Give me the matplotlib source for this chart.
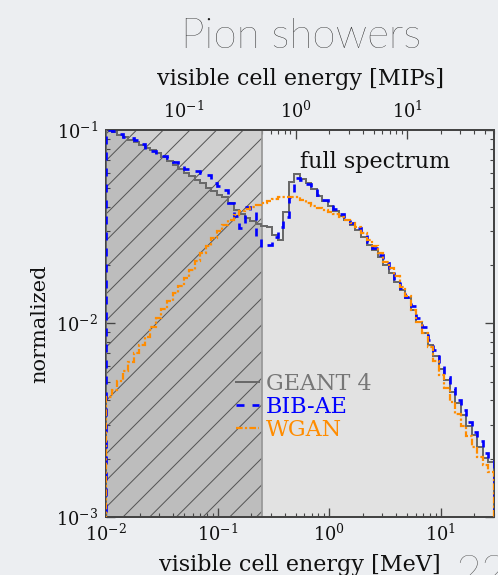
import numpy as np
import matplotlib
matplotlib.use("Agg")
import matplotlib.pyplot as plt
from matplotlib.patches import Rectangle

plt.rcParams['font.family'] = 'DejaVu Serif'
plt.rcParams['mathtext.fontset'] = 'dejavuserif'
plt.rcParams['hatch.linewidth'] = 0.45

# binning: log bins 0.01 .. 30 MeV
e_min, e_max, n_bins = 0.01, 30.0, 70
mip_mev = 0.5
cut_mev = 0.25
y_min, y_max = 1e-3, 1e-1
top_ticks = [0.1, 1, 10]

geant4 = [0.101, 0.0977, 0.0942, 0.0920, 0.0888, 0.0867, 0.0837, 0.0807, 0.0788, 0.0760,
          0.0725, 0.0692, 0.0659, 0.0629, 0.0600, 0.0579, 0.0552, 0.0532, 0.0502, 0.0484,
          0.0461, 0.0449, 0.0419, 0.0386, 0.0368, 0.0351, 0.0339, 0.0327, 0.0319, 0.0315,
          0.0287, 0.0270, 0.0377, 0.0539, 0.0592, 0.0558, 0.0532, 0.0496, 0.0456, 0.0430,
          0.0405, 0.0381, 0.0359, 0.0343, 0.0323, 0.0304, 0.0280, 0.0255, 0.0240, 0.0221,
          0.0201, 0.0182, 0.0164, 0.0149, 0.0135, 0.0117, 0.0102, 0.00893, 0.00774, 0.00679,
          0.00582, 0.00511, 0.00443, 0.00388, 0.00337, 0.00295, 0.00265, 0.00230, 0.00202, 0.00192]

bib_ae = [0.1000, 0.0988, 0.0953, 0.0920, 0.0909, 0.0888, 0.0847, 0.0798, 0.0779, 0.0743,
          0.0734, 0.0717, 0.0684, 0.0659, 0.0629, 0.0621, 0.0614, 0.0600, 0.0585, 0.0532,
          0.0514, 0.0490, 0.0419, 0.0359, 0.0311, 0.0398, 0.0381, 0.0283, 0.0249, 0.0255,
          0.0280, 0.0315, 0.0355, 0.0451, 0.0565, 0.0552, 0.0526, 0.0496, 0.0461, 0.0435,
          0.0415, 0.0391, 0.0368, 0.0347, 0.0331, 0.0311, 0.0287, 0.0264, 0.0246, 0.0226,
          0.0205, 0.0187, 0.0168, 0.0153, 0.0137, 0.0123, 0.0107, 0.00959, 0.00822, 0.00729,
          0.00603, 0.00529, 0.00464, 0.00402, 0.00357, 0.00310, 0.00275, 0.00247, 0.00214, 0.00197]

wgan = [0.00417, 0.00453, 0.00504, 0.00568, 0.00632, 0.00704, 0.00774, 0.00852, 0.00959, 0.0107,
        0.0119, 0.0131, 0.0144, 0.0156, 0.0172, 0.0189, 0.0210, 0.0231, 0.0251, 0.0277,
        0.0301, 0.0323, 0.0343, 0.0364, 0.0381, 0.0391, 0.0398, 0.0410, 0.0419, 0.0430,
        0.0440, 0.0449, 0.0451, 0.0451, 0.0449, 0.0435, 0.0419, 0.0405, 0.0395, 0.0386,
        0.0377, 0.0368, 0.0355, 0.0343, 0.0331, 0.0315, 0.0294, 0.0270, 0.0251, 0.0231,
        0.0208, 0.0194, 0.0176, 0.0154, 0.0139, 0.0117, 0.0102, 0.00893, 0.00756, 0.00640,
        0.00542, 0.00464, 0.00393, 0.00341, 0.00295, 0.00262, 0.00230, 0.00204, 0.00186, 0.00171]

labels = ['GEANT 4', 'BIB-AE', 'WGAN']
colors = ['dimgray', 'blue', 'darkorange']
label_colors = ['#777777', 'blue', 'darkorange']

edges = np.logspace(np.log10(e_min), np.log10(e_max), n_bins + 1)
base = 1e-4
bg = '#eceef1'

fig = plt.figure(figsize=(498/160, 575/160), dpi=160, facecolor=bg)
ax = fig.add_axes([0.2129, 0.1009, 0.7791, 0.673])
ax.set_facecolor(bg)
ax.set_xscale('log')
ax.set_yscale('log')
ax.set_xlim(e_min, e_max)
ax.set_ylim(y_min, y_max)

# shaded areas
ax.axvspan(e_min, cut_mev, color='#d0d0d0', lw=0, zorder=0.1)
ax.stairs(geant4, edges, baseline=base, fill=True, color='#e2e2e2', lw=0, zorder=0.2)
dark = ax.stairs(geant4, edges, baseline=base, fill=True, color='#bdbdbd', lw=0, zorder=0.3)
dark.set_clip_path(Rectangle((e_min, y_min), cut_mev - e_min, y_max - y_min, transform=ax.transData))
ax.axvspan(e_min, cut_mev, facecolor='none', edgecolor='#555555', hatch='//', lw=0, zorder=0.4)
ax.axvline(cut_mev, color='#999999', lw=0.8, zorder=0.45)

ax.stairs(geant4, edges, baseline=base, color=colors[0], lw=0.9, label=labels[0], zorder=3)
ax.stairs(bib_ae, edges, baseline=base, color=colors[1], lw=1.2, ls=(0, (3, 3)), label=labels[1], zorder=4)
ax.stairs(wgan, edges, baseline=base, color=colors[2], lw=1.0, ls=(0, (3, 1, 1, 1)), label=labels[2], zorder=5)

for s in ax.spines.values():
    s.set_color('#444444')
    s.set_linewidth(0.9)
ax.tick_params(which='both', direction='in', top=False, right=True, colors='#444444',
               labelcolor='#111111', labelsize=8)
ax.tick_params(which='major', length=4, width=0.6)
ax.tick_params(which='minor', length=2, width=0.5)
ax.tick_params(axis='x', pad=3)

ax.set_xlabel('visible cell energy [MeV]', fontsize=10, color='#111111', labelpad=4)
ax.set_ylabel('normalized', fontsize=9.4, color='#111111', labelpad=3)

top = ax.secondary_xaxis('top', functions=(lambda e: e / mip_mev, lambda m: m * mip_mev))
top.set_xticks(top_ticks)
top.tick_params(which='both', direction='in', colors='#444444', labelcolor='#111111', labelsize=8)
top.tick_params(which='major', length=4, width=0.6)
top.tick_params(which='minor', length=2, width=0.5)
top.set_xlabel('visible cell energy [MIPs]', fontsize=10, color='#111111', labelpad=7)

ax.text(0.693, 0.918, 'full spectrum', transform=ax.transAxes, ha='center', va='center',
        fontsize=10, color='#111111')

leg = ax.legend(loc='upper left', bbox_to_anchor=(0.474, 0.352), bbox_transform=fig.transFigure,
                frameon=False, fontsize=10, handlelength=1.05, handletextpad=0.3,
                labelspacing=0.05, borderpad=0, borderaxespad=0)
for t, c in zip(leg.get_texts(), label_colors):
    t.set_color(c)

fig.text(0.605, 0.936, 'Pion showers', ha='center', va='center', fontsize=19,
         family='Lato', weight='light', color='#1e1e1e')
fig.text(0.915, 0.0, '22', ha='left', va='center', fontsize=20,
         family='Lato', weight='light', color='#444444')

fig.savefig('out.png', dpi=160, facecolor=bg)
